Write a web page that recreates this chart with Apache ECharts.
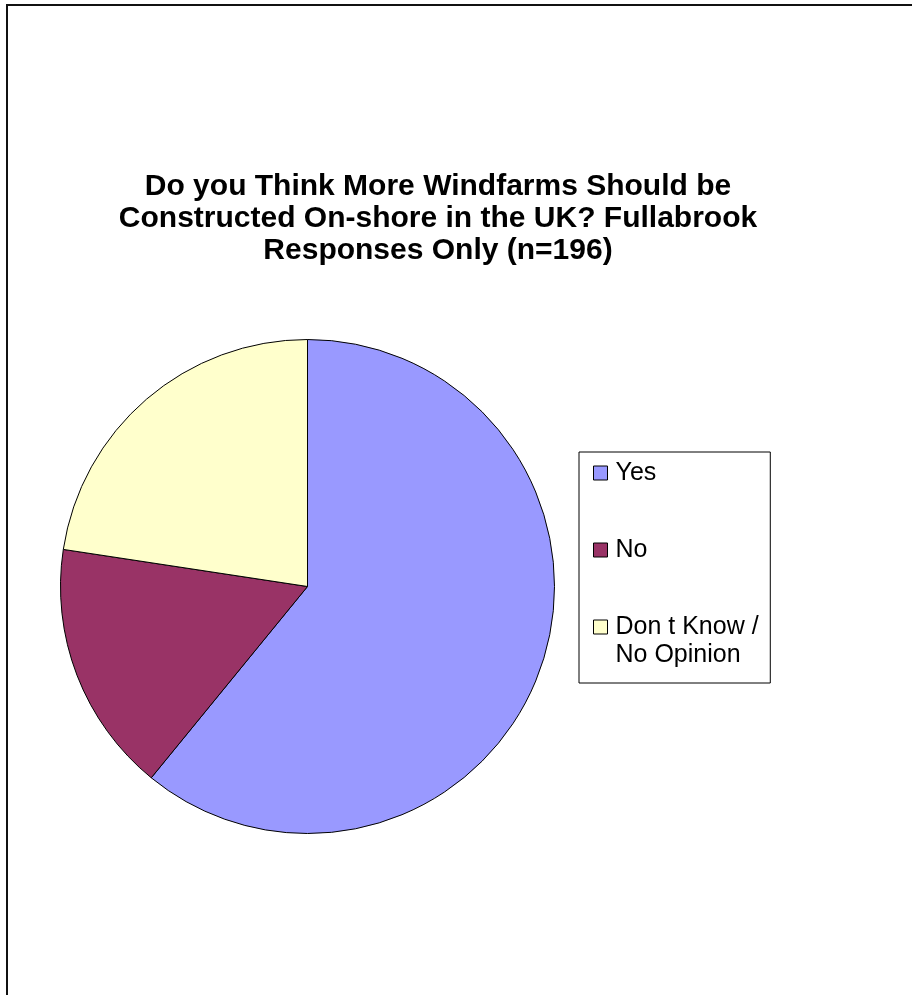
<!DOCTYPE html>
<html>
<head>
<meta charset="utf-8">
<script src="https://cdn.jsdelivr.net/npm/echarts@6/dist/echarts.min.js"></script>
<style>
  html, body { margin: 0; padding: 0; background: #ffffff; }
  #chart { width: 921px; height: 995px; }
</style>
</head>
<body>
<div id="chart"></div>
<script>
// Data (percent of respondents, n=196)
const categories = ['Yes', 'No', 'Don t Know / No Opinion'];
const values = [60.9, 16.5, 22.6];
const colors = ['#9999FF', '#993366', '#FFFFCC'];
const titleText = 'Do you Think More Windfarms Should be\nConstructed On-shore in the UK? Fullabrook\nResponses Only (n=196)';

const FONT = '"Liberation Sans", Arial, sans-serif';
const LEG_FS = 25;
const LEG_LH = 28;

const chart = echarts.init(document.getElementById('chart'), null, { renderer: 'canvas' });

const pieData = categories.map((c, i) => ({ name: c, value: values[i], itemStyle: { color: colors[i] } }));

const legendCommon = {
  orient: 'vertical',
  itemWidth: 14,
  itemHeight: 14,
  icon: 'rect',
  selectedMode: false,
  itemStyle: { borderColor: '#000000', borderWidth: 1 },
  textStyle: { fontFamily: FONT, fontSize: LEG_FS, color: '#000000', lineHeight: LEG_LH, padding: [0, 0, 0, 3] }
};

const option = {
  animation: false,
  backgroundColor: '#ffffff',
  title: {
    text: titleText,
    left: 433,
    textAlign: 'center',
    top: 166,
    textStyle: { fontFamily: FONT, fontSize: 30, fontWeight: 'bold', color: '#000000', lineHeight: 32 }
  },
  legend: [
    Object.assign({}, legendCommon, {
      data: [categories[0], categories[1]],
      left: 579,
      top: 452,
      itemGap: 49,
      padding: [7, 114, 119, 14],
      borderColor: '#000000',
      borderWidth: 1
    }),
    Object.assign({}, legendCommon, {
      data: [categories[2]],
      left: 593,
      top: 627 - 1.5 * LEG_LH,
      padding: 0,
      formatter: function (name) { return '\n' + name.replace(' / ', ' /\n'); }
    })
  ],
  series: [{
    type: 'pie',
    center: [307.5, 586.5],
    radius: 247,
    startAngle: 90,
    clockwise: true,
    label: { show: false },
    labelLine: { show: false },
    emphasis: { disabled: true },
    itemStyle: { borderColor: '#000000', borderWidth: 1 },
    data: pieData
  }],
  graphic: [{
    type: 'polyline',
    shape: { points: [[7, 995], [7, 5], [912, 5]] },
    style: { stroke: '#111111', lineWidth: 2, fill: null }
  }]
};

chart.setOption(option);
</script>
</body>
</html>
